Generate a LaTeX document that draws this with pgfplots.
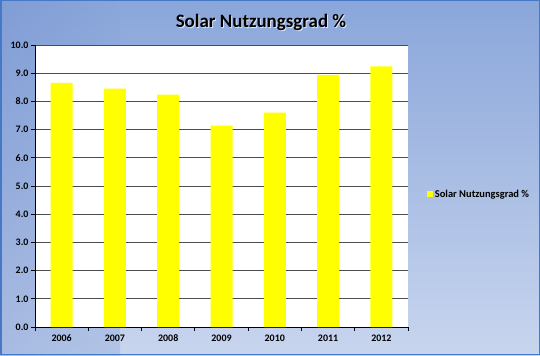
\documentclass[border=0pt]{standalone}
\usepackage{pgfplots}
\pgfplotsset{compat=1.18}
\usepackage{fontspec}
\setmainfont{Carlito}
\definecolor{bgTop}{RGB}{138,166,218}
\definecolor{bgBot}{RGB}{200,213,238}
\definecolor{bgLeft}{RGB}{110,140,205}
\definecolor{frameBlue}{RGB}{70,120,200}
\definecolor{barYellow}{RGB}{255,255,0}
\begin{document}
\begin{tikzpicture}[x=1bp,y=1bp]
\shade[top color=bgTop, bottom color=bgBot] (0,0) rectangle (540,355);
\shade[left color=bgLeft, right color=bgTop, opacity=0.35] (0,0) rectangle (120,355);
\draw[frameBlue, line width=1.5bp] (0.75,0.75) rectangle (539.25,354.25);
\node[text=white!70!bgTop, font=\bfseries\fontsize{19}{21}\selectfont] at (262,332) {Solar Nutzungsgrad \%};
\node[font=\bfseries\fontsize{19}{21}\selectfont] at (261,333) {Solar Nutzungsgrad \%};
\begin{axis}[
  at={(35bp,28bp)}, anchor=south west,
  width=373bp, height=282bp, scale only axis,
  axis background/.style={fill=white},
  xmin=-0.5, xmax=6.5, ymin=0, ymax=10,
  ytick={0,1,...,10},
  yticklabel={\pgfmathprintnumber[fixed,fixed zerofill,precision=1]{\tick}},
  xtick={0,...,6},
  xticklabels={2006,2007,2008,2009,2010,2011,2012},
  major x tick style={draw=none},
  minor xtick={-0.5,0.5,...,6.5},
  minor tick length=4bp,
  major tick length=4bp,
  tick align=outside,
  axis x line*=bottom, axis y line*=left,
  axis line style={black, line width=0.8bp},
  tick style={black, line width=0.8bp},
  ymajorgrids, grid style={black!70, line width=0.8bp},
  every tick label/.style={font=\bfseries\fontsize{10}{12}\selectfont},
  yticklabel style={xshift=1bp},
  /pgf/number format/assume math mode=true,
  ybar, bar width=22bp,
  legend style={at={(1.05,0.47)}, anchor=west, draw=none, fill=none,
    font=\bfseries\fontsize{10.5}{12}\selectfont, inner xsep=0pt},
  legend image code/.code={\fill[barYellow] (0bp,-3bp) rectangle (6bp,3bp);},
]
\addplot[fill=barYellow, draw=none] coordinates {
  (0,8.66) (1,8.45) (2,8.24) (3,7.14) (4,7.60) (5,8.94) (6,9.24)};
\addlegendentry{Solar Nutzungsgrad \%}
\end{axis}
\end{tikzpicture}
\end{document}
